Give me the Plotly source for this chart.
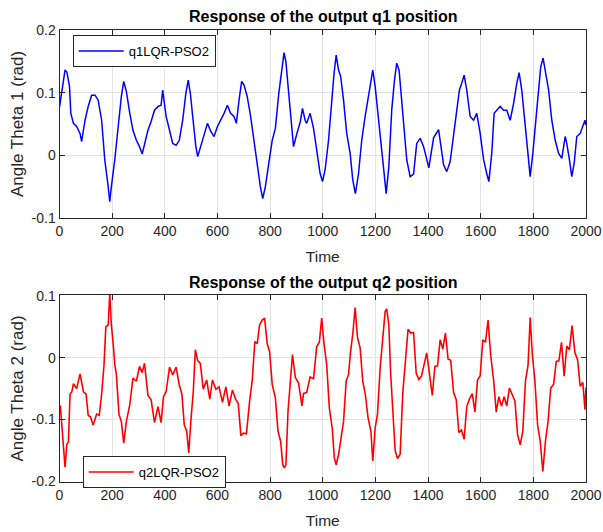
import plotly.graph_objects as go

# ---------------- data ----------------
q1_t = [0, 21, 28, 38, 43, 53, 65, 78, 84, 97, 109, 122, 135, 147, 160, 172, 185, 191, 197, 210,
        223, 235, 244, 254, 267, 279, 292, 304, 314, 323, 336, 348, 361, 374, 386, 392, 399, 405, 418, 430,
        443, 455, 468, 480, 489, 497, 506, 518, 525, 537, 550, 562, 575, 587, 600, 613, 625, 638, 650, 663,
        672, 682, 692, 701, 713, 726, 738, 751, 763, 772, 782, 795, 808, 820, 833, 846, 853, 860, 870, 883,
        889, 902, 915, 923, 933, 939, 952, 965, 977, 990, 999, 1009, 1022, 1034, 1043, 1051, 1060, 1068, 1079, 1091,
        1104, 1114, 1124, 1136, 1148, 1161, 1174, 1182, 1190, 1199, 1208, 1218, 1231, 1241, 1251, 1262, 1272, 1281, 1290, 1300,
        1309, 1319, 1332, 1345, 1357, 1370, 1383, 1395, 1403, 1421, 1440, 1459, 1471, 1484, 1497, 1509, 1519, 1528, 1537, 1547,
        1560, 1573, 1585, 1598, 1611, 1623, 1631, 1642, 1651, 1661, 1674, 1687, 1699, 1712, 1725, 1737, 1746, 1756, 1765, 1775,
        1788, 1798, 1811, 1821, 1828, 1837, 1846, 1858, 1870, 1883, 1896, 1908, 1921, 1927, 1937, 1946, 1955, 1965, 1978, 1988,
        1996, 2000]
q1_v = [0.077, 0.136, 0.133, 0.110, 0.067, 0.051, 0.046, 0.035, 0.022, 0.056, 0.078, 0.096, 0.096, 0.088, 0.056, -0.007, -0.050, -0.074, -0.050, -0.007,
        0.046, 0.094, 0.118, 0.102, 0.067, 0.040, 0.024, 0.014, 0.002, 0.019, 0.040, 0.054, 0.072, 0.078, 0.080, 0.104, 0.083, 0.062, 0.040, 0.019,
        0.016, 0.024, 0.056, 0.099, 0.120, 0.099, 0.062, 0.014, -0.002, 0.014, 0.032, 0.051, 0.038, 0.030, 0.046, 0.056, 0.067, 0.080, 0.067, 0.062,
        0.051, 0.088, 0.118, 0.112, 0.094, 0.062, 0.024, -0.018, -0.050, -0.069, -0.050, -0.013, 0.024, 0.043, 0.099, 0.141, 0.164, 0.149, 0.104, 0.040,
        0.014, 0.035, 0.054, 0.075, 0.056, 0.051, 0.067, 0.043, 0.009, -0.029, -0.042, -0.023, 0.024, 0.088, 0.131, 0.160, 0.136, 0.126, 0.088, 0.035,
        0.003, -0.039, -0.061, -0.029, 0.024, 0.062, 0.094, 0.120, 0.136, 0.110, 0.072, 0.024, -0.029, -0.061, -0.018, 0.072, 0.118, 0.147, 0.136, 0.088,
        0.035, -0.007, -0.034, -0.030, 0.019, 0.027, 0.014, -0.007, -0.020, 0.028, 0.041, -0.015, -0.026, -0.010, 0.030, 0.072, 0.104, 0.115, 0.128, 0.104,
        0.062, 0.056, 0.067, 0.035, -0.007, -0.029, -0.042, 0.003, 0.067, 0.072, 0.078, 0.072, 0.072, 0.056, 0.083, 0.115, 0.132, 0.104, 0.062, 0.014,
        -0.034, 0.003, 0.067, 0.115, 0.141, 0.155, 0.134, 0.104, 0.056, 0.024, 0.003, -0.005, 0.030, 0.019, -0.007, -0.034, -0.013, 0.030, 0.035, 0.048,
        0.056, 0.048]

q2_t = [3, 9, 15, 21, 28, 34, 40, 47, 53, 65, 78, 91, 101, 109, 118, 128, 141, 151, 160, 169,
        176, 185, 191, 197, 204, 210, 216, 226, 235, 244, 254, 267, 279, 292, 304, 314, 323, 336, 348, 361,
        374, 386, 395, 405, 418, 430, 443, 455, 465, 474, 483, 491, 499, 508, 516, 525, 535, 546, 559, 571,
        581, 594, 606, 619, 632, 644, 657, 669, 679, 689, 699, 710, 722, 732, 742, 751, 760, 770, 779, 789,
        798, 808, 820, 830, 840, 848, 854, 860, 868, 877, 885, 896, 908, 921, 927, 939, 952, 965, 977, 987,
        996, 1005, 1015, 1025, 1036, 1044, 1051, 1060, 1068, 1079, 1089, 1098, 1106, 1114, 1123, 1132, 1142, 1152, 1162, 1172,
        1183, 1190, 1199, 1208, 1218, 1228, 1237, 1243, 1251, 1258, 1266, 1275, 1284, 1294, 1304, 1314, 1324, 1334, 1345, 1355,
        1365, 1375, 1385, 1395, 1405, 1416, 1426, 1436, 1446, 1456, 1466, 1476, 1486, 1497, 1507, 1517, 1527, 1537, 1547, 1557,
        1568, 1578, 1588, 1598, 1608, 1618, 1628, 1638, 1649, 1659, 1669, 1679, 1689, 1699, 1709, 1720, 1730, 1740, 1750, 1760,
        1770, 1780, 1788, 1796, 1806, 1816, 1826, 1836, 1846, 1856, 1866, 1877, 1887, 1897, 1907, 1917, 1927, 1937, 1947, 1958,
        1968, 1978, 1988, 1996, 2000]
q2_v = [-0.086, -0.105, -0.143, -0.168, -0.149, -0.127, -0.068, -0.046, -0.051, -0.041, -0.035, -0.046, -0.068, -0.084, -0.105, -0.100, -0.100, -0.084, -0.068, -0.003,
        0.041, 0.062, 0.095, 0.062, 0.014, -0.003, -0.035, -0.084, -0.111, -0.130, -0.111, -0.068, -0.041, -0.030, -0.024, -0.014, -0.019, -0.051, -0.078, -0.095,
        -0.089, -0.095, -0.073, -0.046, -0.024, -0.019, -0.024, -0.035, -0.068, -0.100, -0.127, -0.145, -0.111, -0.046, 0.003, 0.005, -0.019, -0.041, -0.046, -0.057,
        -0.046, -0.041, -0.057, -0.062, -0.057, -0.068, -0.062, -0.057, -0.084, -0.116, -0.132, -0.116, -0.078, -0.030, 0.019, 0.030, 0.046, 0.068, 0.057, 0.030,
        0.003, -0.035, -0.073, -0.111, -0.143, -0.165, -0.186, -0.165, -0.095, -0.030, -0.003, -0.024, -0.051, -0.068, -0.068, -0.046, -0.041, -0.024, 0.008, 0.035,
        0.054, 0.030, -0.019, -0.073, -0.122, -0.154, -0.181, -0.149, -0.143, -0.095, -0.046, -0.019, 0.003, 0.046, 0.073, 0.041, 0.008, -0.030, -0.068, -0.089,
        -0.127, -0.159, -0.122, -0.084, -0.024, 0.035, 0.068, 0.086, 0.046, -0.019, -0.089, -0.143, -0.170, -0.149, -0.068, 0.003, 0.035, 0.051, 0.030, -0.014,
        -0.046, -0.019, -0.024, 0.019, -0.035, -0.051, -0.024, -0.003, 0.019, 0.024, 0.030, 0.008, -0.014, -0.046, -0.078, -0.111, -0.127, -0.122, -0.089, -0.057,
        -0.068, -0.078, -0.046, -0.019, 0.019, 0.035, 0.051, 0.014, -0.046, -0.078, -0.073, -0.068, -0.073, -0.068, -0.057, -0.051, -0.078, -0.116, -0.149, -0.111,
        -0.046, -0.003, 0.057, 0.014, -0.046, -0.100, -0.143, -0.176, -0.143, -0.095, -0.057, -0.035, -0.014, 0.003, 0.014, -0.019, 0.008, 0.024, 0.041, 0.019,
        -0.014, -0.035, -0.051, -0.073, -0.057]
# half-width of the high-frequency jitter band of q2, per 100-time-unit bin
q2_band = [0.009, 0.009, 0.008, 0.010, 0.009, 0.010, 0.010, 0.007, 0.008, 0.010,
           0.008, 0.008, 0.007, 0.011, 0.010, 0.010, 0.010, 0.008, 0.008, 0.011, 0.009]

x_ticks = [0, 200, 400, 600, 800, 1000, 1200, 1400, 1600, 1800, 2000]
y1_ticks = [-0.1, 0, 0.1, 0.2]
y1_labels = ["-0.1", "0", "0.1", "0.2"]
y2_ticks = [-0.2, -0.1, 0, 0.1]
y2_labels = ["-0.2", "-0.1", "0", "0.1"]


def jagged(t, v, band):
    """Draw the read centre line with the read jitter band (alternating edges)."""
    out = []
    for i, (ti, vi) in enumerate(zip(t, v)):
        hw = band[min(int(ti // 100), len(band) - 1)]
        out.append(vi + hw if i % 2 == 0 else vi - hw)
    return out


FONT = "Liberation Sans, Arial, Helvetica, sans-serif"
TXT = "#262626"

fig = go.Figure()
fig.add_trace(go.Scatter(x=q1_t, y=q1_v, mode="lines",
                         name="q1LQR-PSO2", line=dict(color="#0000ff", width=1.5),
                         xaxis="x", yaxis="y", legend="legend", showlegend=True))
fig.add_trace(go.Scatter(x=q2_t, y=jagged(q2_t, q2_v, q2_band), mode="lines",
                         name="q2LQR-PSO2", line=dict(color="#ff0000", width=1.6),
                         xaxis="x2", yaxis="y2", legend="legend2", showlegend=True))

W, H = 603, 532
xd = [59.5 / W, 586 / W]

axis_common = dict(showline=True, linecolor=TXT, linewidth=1, mirror="allticks",
                   ticks="inside", ticklen=5, tickcolor=TXT, showgrid=True,
                   gridcolor="#e3e3e3", gridwidth=1, zeroline=False, automargin=False,
                   tickfont=dict(family=FONT, size=14, color=TXT))

fig.update_layout(
    width=W, height=H,
    margin=dict(l=0, r=0, t=0, b=0, autoexpand=False),
    paper_bgcolor="white", plot_bgcolor="white",
    showlegend=True,
    font=dict(family=FONT, color=TXT),
    xaxis=dict(domain=xd, anchor="y", range=[0, 2000], tickvals=x_ticks,
               title=dict(text="Time", font=dict(family=FONT, size=15.5, color=TXT), standoff=13),
               **axis_common),
    yaxis=dict(domain=[1 - 218 / H, 1 - 30 / H], anchor="x", range=[-0.1, 0.2],
               tickvals=y1_ticks, ticktext=y1_labels,
               title=dict(text="Angle Theta 1 (rad)", font=dict(family=FONT, size=17, color=TXT), standoff=3),
               **axis_common),
    xaxis2=dict(domain=xd, anchor="y2", range=[0, 2000], tickvals=x_ticks,
                title=dict(text="Time", font=dict(family=FONT, size=15.5, color=TXT), standoff=13),
                **axis_common),
    yaxis2=dict(domain=[1 - 482 / H, 1 - 295 / H], anchor="x2", range=[-0.201, 0.1015],
                tickvals=y2_ticks, ticktext=y2_labels,
                title=dict(text="Angle Theta 2 (rad)", font=dict(family=FONT, size=17, color=TXT), standoff=3),
                **axis_common),
    legend=dict(x=72.7 / W, y=1 - 35 / H, xanchor="left", yanchor="top",
                bgcolor="white", bordercolor=TXT, borderwidth=1, itemwidth=45,
                font=dict(family=FONT, size=13, color="black")),
    legend2=dict(x=82.7 / W, y=1 - 456 / H, xanchor="left", yanchor="top",
                 bgcolor="white", bordercolor=TXT, borderwidth=1, itemwidth=45,
                 font=dict(family=FONT, size=13, color="black")),
    annotations=[
        dict(text="<b>Response of the output q1 position</b>", x=0.5 * (xd[0] + xd[1]), y=1 - 17 / H,
             xref="paper", yref="paper", xanchor="center", yanchor="middle", showarrow=False,
             font=dict(family=FONT, size=16, color="black")),
        dict(text="<b>Response of the output q2 position</b>", x=0.5 * (xd[0] + xd[1]), y=1 - 282.5 / H,
             xref="paper", yref="paper", xanchor="center", yanchor="middle", showarrow=False,
             font=dict(family=FONT, size=16, color="black")),
    ],
)

# remove the browser's default 8px page margin so the figure sits at the window origin
fig.write_html("out.html", config={"displayModeBar": False},
               post_script="document.body.style.margin='0';document.body.style.overflow='hidden';")
